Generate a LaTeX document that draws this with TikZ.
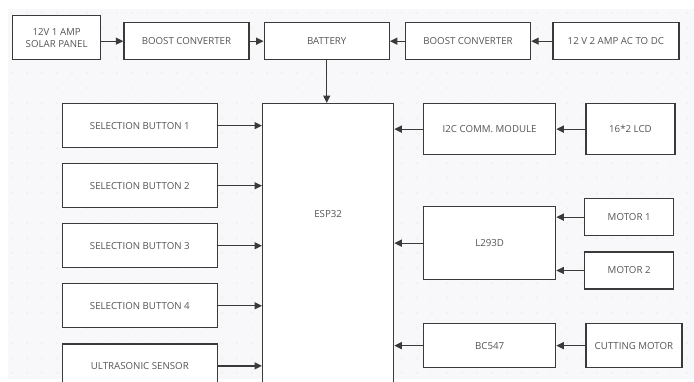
\documentclass[tikz,border=0pt]{standalone}
\usepackage{fontspec}
\setmainfont{Open Sans}
\usetikzlibrary{positioning, arrows.meta}

\definecolor{bggrey}{HTML}{F8F8FA}
\definecolor{dotgrey}{HTML}{DCDCE0}
\definecolor{edgegrey}{HTML}{3A3A3A}
\definecolor{txtgrey}{HTML}{555555}

\begin{document}
\begin{tikzpicture}[
        x=1pt, y=-1pt,
        >={Triangle[length=7.5pt, width=7pt]},
        box/.style={draw=edgegrey, line width=1.3pt, fill=white, align=center,
                    inner sep=0pt, font=\fontsize{9.7}{12}\selectfont, text=txtgrey},
        rowbox/.style={box, minimum width=125pt, minimum height=37pt},
        btnbox/.style={box, minimum width=155pt, minimum height=44pt},
        modbox/.style={box, minimum width=132pt},
        devbox/.style={box, minimum width=89pt},
        wire/.style={->, draw=edgegrey, line width=1.3pt},
    ]
        \clip (0,0) rectangle (694,381);
        \useasboundingbox (0,0) rectangle (694,381);

        % dotted canvas
        \fill[bggrey] (8,9) rectangle (694,379);
        \foreach \i in {0,...,45}
            \foreach \j in {0,...,24}
                \fill[dotgrey] (12+15*\i, 13+15*\j) circle (0.7pt);

        % power row
        \node[box, minimum width=88pt, minimum height=44pt, anchor=north west]
            (solar) at (12,15) {12V 1 AMP\\SOLAR PANEL};
        \node[rowbox, anchor=south west] (boostA) at ([xshift=22pt]solar.south east) {BOOST CONVERTER};
        \node[rowbox, right=14pt of boostA]                (battery) {BATTERY};
        \node[rowbox, right=15pt of battery]               (boostB)  {BOOST CONVERTER};
        \node[rowbox, minimum width=126pt, right=21pt of boostB] (acdc) {12 V 2 AMP AC TO DC};

        % controller
        \node[box, minimum width=131pt, minimum height=300pt, anchor=north west] (esp) at (262,103) {};
        \node[below=104pt of esp.north, font=\fontsize{9.7}{12}\selectfont, text=txtgrey] (esplbl) {ESP32};

        % inputs on the left
        \node[btnbox, anchor=north east] (sel1) at (218,103) {SELECTION BUTTON 1};
        \node[btnbox, below=14.75pt of sel1] (sel2)  {SELECTION BUTTON 2};
        \node[btnbox, below=14.75pt of sel2] (sel3)  {SELECTION BUTTON 3};
        \node[btnbox, below=14.75pt of sel3] (sel4)  {SELECTION BUTTON 4};
        \node[btnbox, below=14.75pt of sel4] (sonar) {ULTRASONIC SENSOR};

        % modules on the right
        \node[modbox, minimum height=51pt, anchor=north west] (i2c)   at (423,103) {I2C COMM. MODULE};
        \node[devbox, minimum height=51pt, right=29pt of i2c]  (lcd)   {16*2 LCD};
        \node[modbox, minimum height=73pt, anchor=north west] (l293)  at (423,206) {L293D};
        \node[devbox, minimum height=37pt, anchor=north west] (motorA) at (584,198) {MOTOR 1};
        \node[devbox, minimum height=37pt, below=15pt of motorA] (motorB) {MOTOR 2};
        \node[modbox, minimum height=44pt, anchor=north west] (bc547) at (423,323) {BC547};
        \node[box, minimum width=96pt, minimum height=44pt, right=29pt of bc547] (cutter) {CUTTING MOTOR};

        % power flow
        \draw[wire] (solar.east |- boostA.west) -- (boostA.west);
        \draw[wire] (boostA) -- (battery);
        \draw[wire] (boostB) -- (battery);
        \draw[wire] (acdc) -- (boostB);
        \draw[wire] (battery.south) -- (battery.south |- esp.north);

        % signals into the ESP32
        \foreach \src in {sel1, sel2, sel3, sel4, sonar}
            \draw[wire] (\src.east) -- (\src.east -| esp.west);
        \foreach \src in {i2c, l293, bc547}
            \draw[wire] (\src.west) -- (\src.west -| esp.east);

        \draw[wire] (lcd) -- (i2c);
        \draw[wire] (motorA.west) -- (motorA.west -| l293.east);
        \draw[wire] (motorB.west) -- (motorB.west -| l293.east);
        \draw[wire] (cutter) -- (bc547);
    \end{tikzpicture}
\end{document}
